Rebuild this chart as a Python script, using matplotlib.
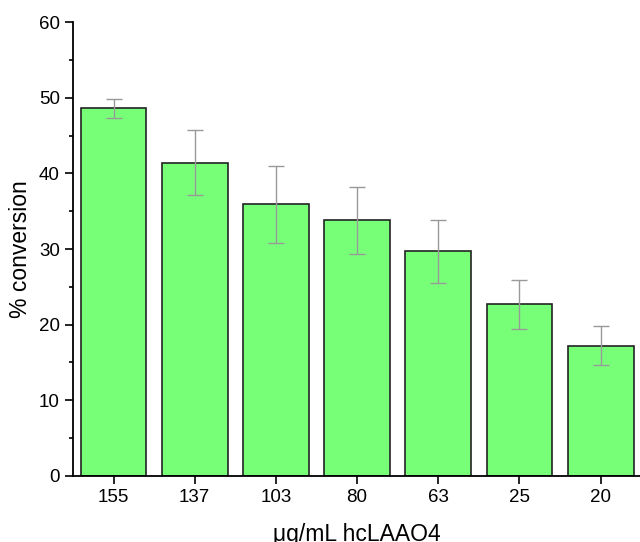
import matplotlib.pyplot as plt
from matplotlib.ticker import MultipleLocator

plt.rcParams['font.family'] = ['Liberation Sans', 'DejaVu Sans']

# concentration of enzyme (ug/mL) and conversion
conc = ["155", "137", "103", "80", "63", "25", "20"]
conversion = [48.6, 41.4, 35.9, 33.8, 29.7, 22.7, 17.2]
error = [1.25, 4.3, 5.05, 4.4, 4.15, 3.25, 2.6]

fig = plt.figure(figsize=(6.4, 5.42), dpi=100)
ax = fig.add_axes([0.114, 0.122, 0.888, 0.837])

x = range(len(conc))
ax.bar(x, conversion, width=0.81, color="#78ff78", edgecolor="#222222", linewidth=1.2,
       yerr=error, capsize=6,
       error_kw=dict(ecolor="#999999", elinewidth=1, capthick=1))

ax.set_xlim(-0.5, 6.5)
ax.set_ylim(0, 60)
ax.set_xticks(list(x))
ax.set_xticklabels(conc)
ax.yaxis.set_major_locator(MultipleLocator(10))
ax.yaxis.set_minor_locator(MultipleLocator(5))

ax.spines['top'].set_visible(False)
ax.spines['right'].set_visible(False)
ax.spines['left'].set_linewidth(1.3)
ax.spines['bottom'].set_linewidth(1.3)
ax.tick_params(axis='both', which='major', length=6, width=1.2, labelsize=13.5)
ax.tick_params(axis='y', which='minor', length=3, width=1.2)

ax.set_ylabel("% conversion", fontsize=16.5, labelpad=5)
ax.set_xlabel("μg/mL hcLAAO4", fontsize=16.5, labelpad=12)

plt.savefig("out.png", dpi=100)
